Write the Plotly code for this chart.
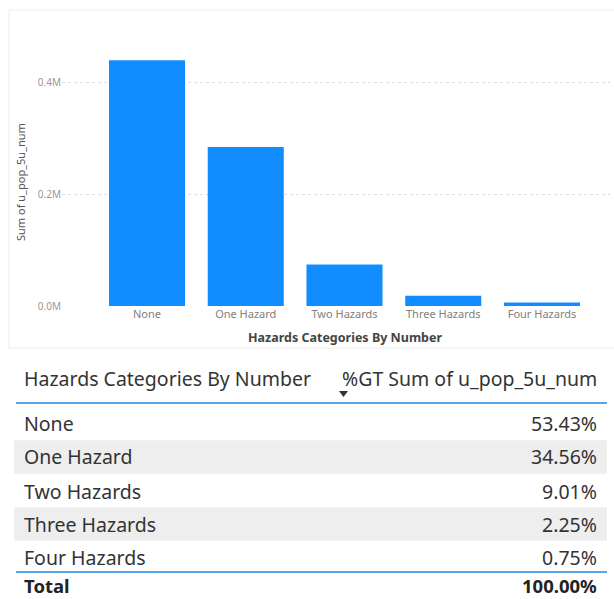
import plotly.graph_objects as go

# ---- data ----
categories = ["None", "One Hazard", "Two Hazards", "Three Hazards", "Four Hazards"]
pop_values = [439000, 284000, 74000, 18500, 6200]
pct_labels = ["53.43%", "34.56%", "9.01%", "2.25%", "0.75%"]
total_label = "100.00%"
y_tickvals = [0, 200000, 400000]
y_ticktext = ["0.0M", "0.2M", "0.4M"]
x_title = "Hazards Categories By Number"
y_title = "Sum of u_pop_5u_num"
col_headers = ["Hazards Categories By Number", "%GT Sum of u_pop_5u_num"]

W, H = 614, 599
def px(x):
    return x / W
def py(y):
    return 1 - y / H

FONT = "Segoe UI, Noto Sans, Open Sans, sans-serif"
BAR = "#118DFF"

fig = go.Figure()
fig.add_trace(go.Bar(
    x=categories, y=pop_values, marker=dict(color=BAR, line=dict(width=0)),
    width=0.77, hoverinfo="x+y",
))

plot_l, plot_r = 62, 610
plot_t, plot_b = 50, 306
# category 0 centred at x=147, spacing 98.75
x_lo = (plot_l - 147) / 98.75
x_hi = 4 + (plot_r - 542) / 98.75
y_hi = 0.2e6 * (plot_b - plot_t) / 112.0

fig.update_layout(
    width=W, height=H,
    margin=dict(l=0, r=0, t=0, b=0),
    paper_bgcolor="white", plot_bgcolor="white",
    showlegend=False,
    font=dict(family=FONT),
    xaxis=dict(
        domain=[px(plot_l), px(plot_r)], range=[x_lo, x_hi],
        showgrid=False, zeroline=False, showline=False, ticks="",
        tickfont=dict(size=11, color="#808080", family=FONT),
        automargin=False,
    ),
    yaxis=dict(
        domain=[py(plot_b), py(plot_t)], range=[0, y_hi],
        tickvals=y_tickvals, ticktext=y_ticktext,
        showgrid=True, gridcolor="#dddddd", griddash="dot", gridwidth=1,
        zeroline=False, showline=False, ticks="",
        tickfont=dict(size=10, color="#999999", family=FONT),
        automargin=False,
    ),
)

annotations = []
shapes = []

# panel border
shapes.append(dict(type="rect", xref="paper", yref="paper",
                   x0=px(9), x1=px(625), y0=py(348), y1=py(10),
                   line=dict(color="#ececec", width=1), layer="below"))

# axis titles
annotations.append(dict(xref="paper", yref="paper", x=px(20), y=py(182),
                        xanchor="center", yanchor="middle",
                        text=y_title, textangle=-90, showarrow=False,
                        font=dict(size=11, color="#555555", family=FONT)))
annotations.append(dict(xref="paper", yref="paper", x=px(345), y=py(337),
                        xanchor="center", yanchor="middle",
                        text="<b>" + x_title + "</b>", showarrow=False,
                        font=dict(size=12.5, color="#444444", family=FONT)))

# ---- table ----
TXT = "#333333"
LINE = "#5aa5e8"
FS = 19.5
row_y = [424, 457, 491, 524, 557]
row_h = 33.5
tbl_l, tbl_r = 14, 607

# header
annotations.append(dict(xref="paper", yref="paper", x=px(22), y=py(378),
                        xanchor="left", yanchor="middle", text=col_headers[0],
                        showarrow=False, font=dict(size=FS, color=TXT, family=FONT)))
annotations.append(dict(xref="paper", yref="paper", x=px(599), y=py(378),
                        xanchor="right", yanchor="middle", text=col_headers[1],
                        showarrow=False, font=dict(size=FS, color=TXT, family=FONT)))
# sort arrow
shapes.append(dict(type="path", xref="paper", yref="paper",
                   path="M {} {} L {} {} L {} {} Z".format(px(339), py(391), px(348), py(391), px(343.5), py(397)),
                   fillcolor="#333333", line=dict(width=0)))
# header underline
shapes.append(dict(type="line", xref="paper", yref="paper",
                   x0=px(16), x1=px(607), y0=py(403), y1=py(403),
                   line=dict(color=LINE, width=2)))

for i, (cat, pct) in enumerate(zip(categories, pct_labels)):
    yc = row_y[i]
    if i % 2 == 1:
        shapes.append(dict(type="rect", xref="paper", yref="paper",
                           x0=px(tbl_l), x1=px(tbl_r),
                           y0=py(yc + row_h / 2), y1=py(yc - row_h / 2),
                           fillcolor="#eeeeee", line=dict(width=0), layer="below"))
    annotations.append(dict(xref="paper", yref="paper", x=px(22), y=py(yc),
                            xanchor="left", yanchor="middle", text=cat,
                            showarrow=False, font=dict(size=FS, color=TXT, family=FONT)))
    annotations.append(dict(xref="paper", yref="paper", x=px(599), y=py(yc),
                            xanchor="right", yanchor="middle", text=pct,
                            showarrow=False, font=dict(size=FS, color=TXT, family=FONT)))

# bottom line + total
shapes.append(dict(type="line", xref="paper", yref="paper",
                   x0=px(16), x1=px(607), y0=py(572), y1=py(572),
                   line=dict(color=LINE, width=2)))
annotations.append(dict(xref="paper", yref="paper", x=px(22), y=py(585.5),
                        xanchor="left", yanchor="middle", text="<b>Total</b>",
                        showarrow=False, font=dict(size=18.5, color="#222222", family=FONT)))
annotations.append(dict(xref="paper", yref="paper", x=px(599), y=py(585.5),
                        xanchor="right", yanchor="middle", text="<b>" + total_label + "</b>",
                        showarrow=False, font=dict(size=18.5, color="#222222", family=FONT)))

fig.update_layout(annotations=annotations, shapes=shapes)
fig.write_html("out.html", config={"displayModeBar": False},
               post_script="document.body.style.margin='0';document.body.style.overflow='hidden';")
